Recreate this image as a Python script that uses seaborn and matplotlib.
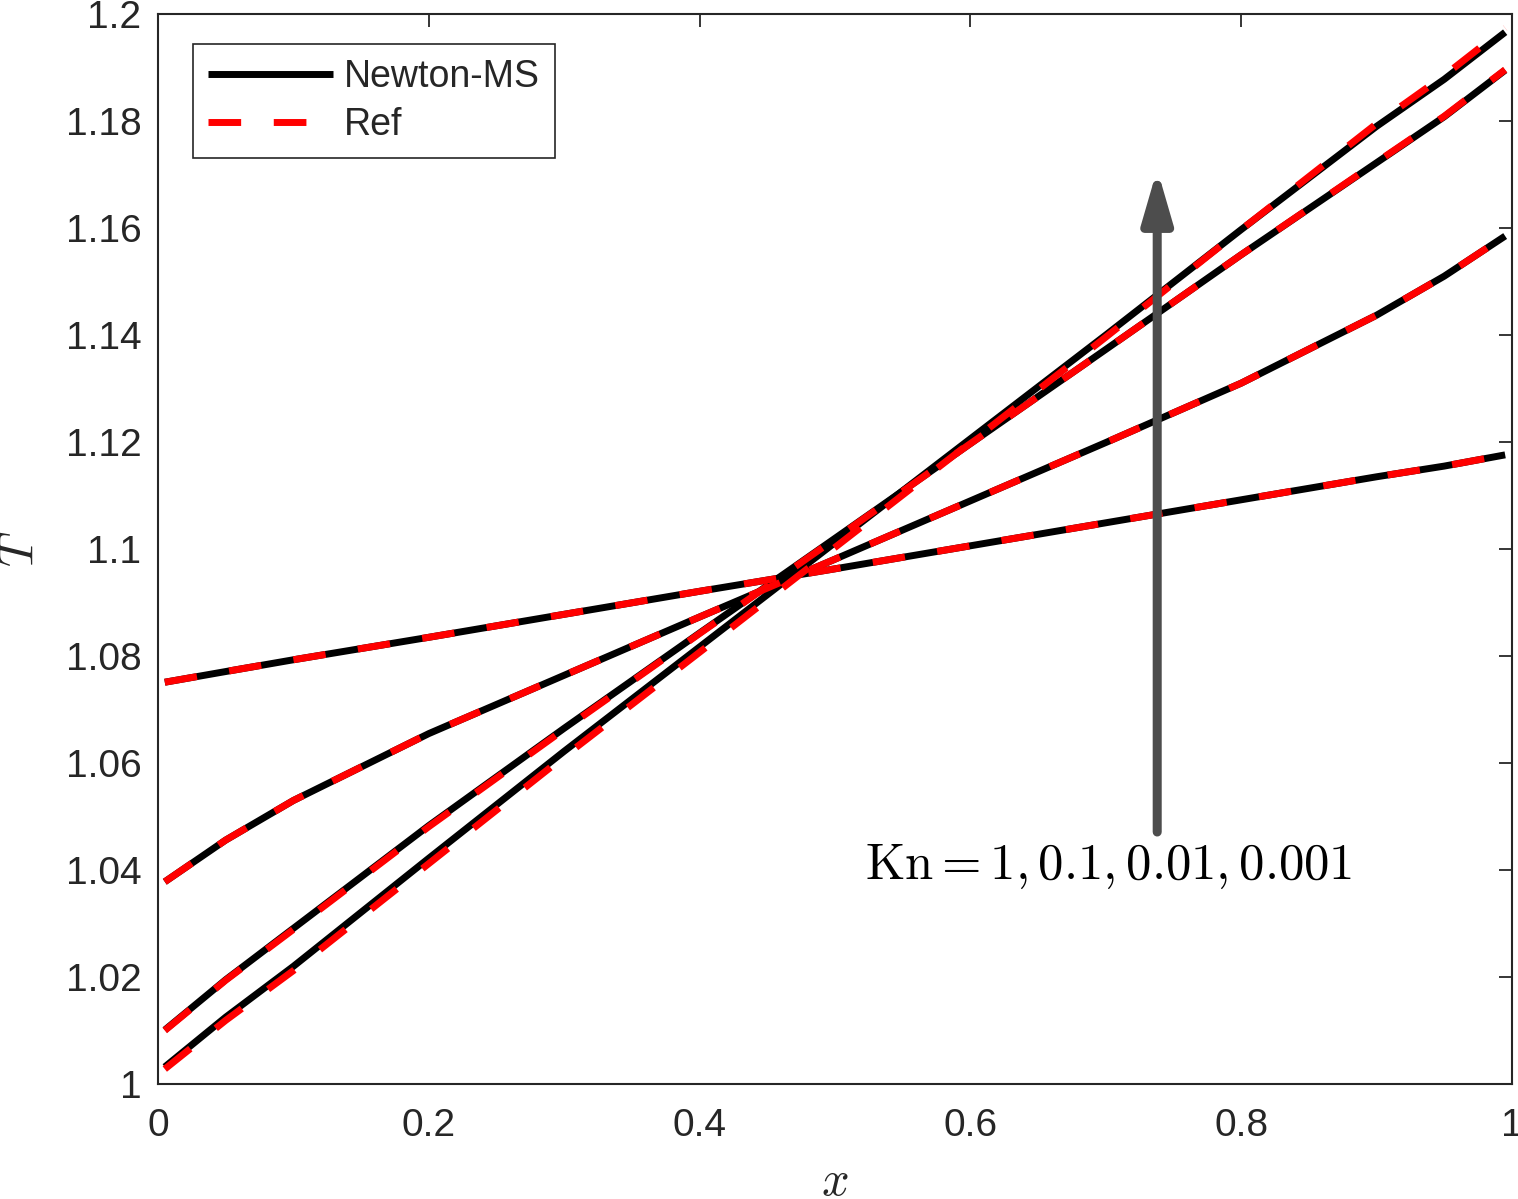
import numpy as np
import pandas as pd
import seaborn as sns
from matplotlib import pyplot as plt
from matplotlib.ticker import FuncFormatter

x = [0.005, 0.05, 0.1, 0.2, 0.3, 0.4, 0.5, 0.6, 0.7, 0.8, 0.9, 0.95, 0.995]

# Newton-MS temperature profiles
T_kn1 = [1.0751, 1.0771, 1.0793, 1.0835, 1.0878, 1.0921, 1.0963, 1.1006, 1.1049, 1.1092, 1.1135, 1.1155, 1.1176]
T_kn01 = [1.0378, 1.0456, 1.0530, 1.0655, 1.0764, 1.0873, 1.0981, 1.1090, 1.1199, 1.1310, 1.1437, 1.1510, 1.1585]
T_kn001 = [1.0101, 1.0195, 1.0291, 1.0483, 1.0665, 1.0843, 1.1020, 1.1197, 1.1373, 1.1550, 1.1722, 1.1808, 1.1895]
T_kn0001 = [1.0032, 1.0125, 1.0220, 1.0422, 1.0622, 1.0817, 1.1012, 1.1206, 1.1400, 1.1597, 1.1790, 1.1878, 1.1966]

# reference solutions
R_kn1 = [1.0751, 1.0771, 1.0793, 1.0835, 1.0878, 1.0921, 1.0963, 1.1006, 1.1049, 1.1092, 1.1135, 1.1155, 1.1176]
R_kn01 = [1.0378, 1.0456, 1.0530, 1.0655, 1.0764, 1.0873, 1.0981, 1.1090, 1.1199, 1.1310, 1.1437, 1.1510, 1.1585]
R_kn001 = [1.0100, 1.0194, 1.0289, 1.0481, 1.0663, 1.0842, 1.1019, 1.1197, 1.1373, 1.1550, 1.1723, 1.1809, 1.1896]
R_kn0001 = [1.0028, 1.0119, 1.0212, 1.0412, 1.0612, 1.0807, 1.1003, 1.1199, 1.1396, 1.1597, 1.1795, 1.1885, 1.1974]

kn_labels = ["1", "0.1", "0.01", "0.001"]
xticks = [0, 0.2, 0.4, 0.6, 0.8, 1]
yticks = [1, 1.02, 1.04, 1.06, 1.08, 1.1, 1.12, 1.14, 1.16, 1.18, 1.2]

rows = []
for src, series in [("Newton-MS", [T_kn1, T_kn01, T_kn001, T_kn0001]),
                    ("Ref", [R_kn1, R_kn01, R_kn001, R_kn0001])]:
    for kn, vals in zip(kn_labels, series):
        for xi, ti in zip(x, vals):
            rows.append({"x": xi, "T": ti, "Kn": kn, "src": src})
df = pd.DataFrame(rows)

sns.set_style("white")
plt.rcParams["font.family"] = ["Liberation Sans", "DejaVu Sans"]
plt.rcParams["mathtext.fontset"] = "cm"

gray = "#262626"
fig = plt.figure(figsize=(15.18, 11.99), dpi=100)
ax = fig.add_axes([0.1041, 0.0959, 0.8919, 0.8924])

sns.lineplot(data=df, x="x", y="T", hue="src", style="src", units="Kn",
             estimator=None, sort=False, ax=ax, legend=False,
             palette={"Newton-MS": "#000000", "Ref": "#ff0000"},
             dashes={"Newton-MS": "", "Ref": (4.7, 4.7)},
             hue_order=["Newton-MS", "Ref"], style_order=["Newton-MS", "Ref"],
             linewidth=5)

for line in ax.lines:
    line.set_solid_capstyle("butt")
    line.set_dash_capstyle("butt")
    line.set_solid_joinstyle("round")

ax.set_xlim(0, 1)
ax.set_ylim(1, 1.2)
ax.set_xticks(xticks)
ax.set_yticks(yticks)
fmt = FuncFormatter(lambda v, p: "%g" % round(v, 4))
ax.xaxis.set_major_formatter(fmt)
ax.yaxis.set_major_formatter(fmt)
ax.tick_params(direction="in", top=True, right=True, length=9.5, width=1.3,
               colors=gray, labelsize=28)
ax.tick_params(axis="x", pad=17)
ax.tick_params(axis="y", pad=12)
for sp in ax.spines.values():
    sp.set_color(gray)
    sp.set_linewidth(1.5)

ax.set_xlabel(r"$x$", fontsize=35, color=gray)
ax.xaxis.set_label_coords(0.5, -0.071)
ax.set_ylabel(r"$T$", fontsize=35, color=gray)
ax.yaxis.set_label_coords(-0.085, 0.5)

# arrow and annotation
ax.annotate("", xy=(0.738, 1.171), xytext=(0.738, 1.0471),
            arrowprops=dict(arrowstyle="-|>,head_length=1.55,head_width=0.45",
                            mutation_scale=20, lw=6.5, color="#4d4d4d",
                            shrinkA=0, shrinkB=0), zorder=5)
ax.text(0.702, 1.0407, r"$\mathrm{Kn} = 1, 0.1, 0.01, 0.001$", fontsize=36.5,
        ha="center", va="center", color="#000000")

handles = [ax.lines[0], ax.lines[4]]
leg = ax.legend(handles, ["Newton-MS", "Ref"], loc="upper left",
                bbox_to_anchor=(0.026, 0.972), borderaxespad=0, fontsize=27,
                handlelength=3.33, handletextpad=0.3, borderpad=0.4,
                labelspacing=0.33, fancybox=False, framealpha=1)
leg.get_frame().set_edgecolor(gray)
leg.get_frame().set_linewidth(1.2)

fig.savefig("out.png", dpi=100)
